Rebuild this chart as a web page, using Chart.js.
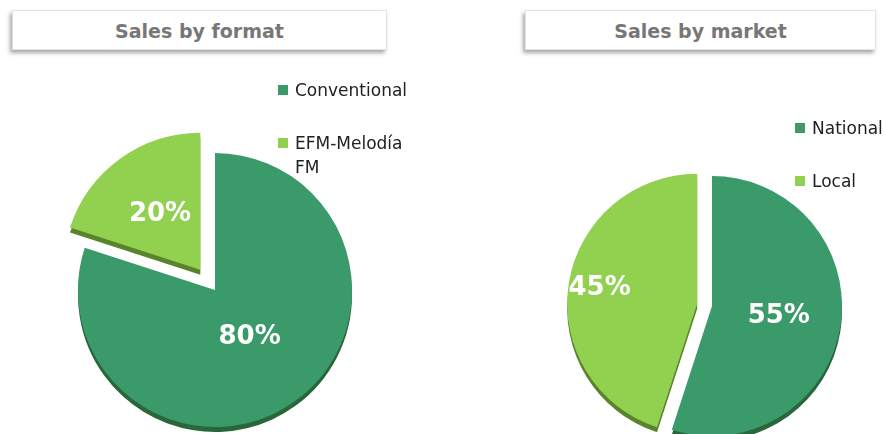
<!DOCTYPE html>
<html>
<head>
<meta charset="utf-8">
<script src="https://cdn.jsdelivr.net/npm/chart.js@4"></script>
<style>
  body { margin: 0; width: 884px; height: 434px; background: #fff; position: relative; overflow: hidden; font-family: "DejaVu Sans", Verdana, sans-serif; }
  .title { position: absolute; top: 10px; height: 40px; background: #fff; border: 1px solid #e4e4e4;
           box-shadow: -2px 3px 4px rgba(0,0,0,0.35); color: #777; font-weight: bold; font-size: 19px;
           line-height: 40px; text-align: center; box-sizing: border-box; }
  .wrap { position: absolute; top: 0; height: 434px; }
  .legend { position: absolute; font-size: 17px; color: #222; }
  .legend div { position: relative; padding-left: 17px; line-height: 24px; }
  .legend span { position: absolute; left: 0; top: 7px; width: 10px; height: 10px; }
</style>
</head>
<body>
<div class="title" style="left:12px;width:375px">Sales by format</div>
<div class="title" style="left:525px;width:351px">Sales by market</div>

<div class="wrap" style="left:0;width:430px"><canvas id="format-chart"></canvas></div>
<div class="wrap" style="left:560px;width:304px"><canvas id="market-chart"></canvas></div>

<div class="legend" id="format-legend" style="left:278px;top:78px;width:128px"></div>
<div class="legend" id="market-legend" style="left:795px;top:116px;width:90px"></div>

<script>
const formatLabels = ['Conventional', 'EFM-Melodía FM'];
const formatValues = [80, 20];
const marketLabels = ['National', 'Local'];
const marketValues = [55, 45];
const colors = ['#3a9a6a', '#92d050'];

// draws the slices pulled out by `explode` px, with a darker copy under them for a 3d edge
const pie3dPlugin = {
    id: 'pie3d',
    beforeDatasetDraw(chart, args, opts) {
        const ctx = chart.ctx;
        const arcs = args.meta.data;
        const shift = arc => {
            const mid = (arc.startAngle + arc.endAngle) / 2;
            const d = opts.explode[arc.$index] || 0;
            return [Math.cos(mid) * d, Math.sin(mid) * d];
        };
        arcs.forEach((arc, i) => arc.$index = i);

        ctx.save();
        arcs.forEach(arc => {
            const [dx, dy] = shift(arc);
            ctx.save();
            ctx.translate(dx, dy + opts.depth);
            arc.draw(ctx);
            ctx.restore();
        });
        ctx.globalCompositeOperation = 'source-atop';
        ctx.fillStyle = 'rgba(20,40,0,0.45)';
        ctx.fillRect(-10, -10, chart.width + 20, chart.height + 20);
        ctx.restore();

        arcs.forEach(arc => {
            const [dx, dy] = shift(arc);
            ctx.save();
            ctx.translate(dx, dy);
            arc.draw(ctx);
            ctx.restore();
        });
        return false;
    },
    afterDatasetsDraw(chart, args, opts) {
        const ctx = chart.ctx;
        const values = chart.data.datasets[0].data;
        ctx.save();
        ctx.fillStyle = '#fff';
        ctx.font = 'bold 26px "DejaVu Sans"';
        ctx.textAlign = 'center';
        ctx.textBaseline = 'middle';
        chart.getDatasetMeta(0).data.forEach((arc, i) => {
            const mid = (arc.startAngle + arc.endAngle) / 2;
            const r = arc.outerRadius * opts.labelPos[i] + (opts.explode[i] || 0);
            ctx.fillText(values[i] + '%', arc.x + Math.cos(mid) * r, arc.y + Math.sin(mid) * r);
        });
        ctx.restore();
    }
};

function makePie(id, labels, values, radius, explode, padTop, labelPos) {
    new Chart(document.getElementById(id).getContext('2d'), {
        type: 'pie',
        data: {
            labels: labels,
            datasets: [{
                data: values,
                backgroundColor: colors,
                borderWidth: 0,
                clip: false
            }]
        },
        options: {
            responsive: true,
            maintainAspectRatio: false,
            animation: false,
            radius: radius,
            layout: { padding: { top: padTop } },
            plugins: {
                legend: { display: false },
                tooltip: { enabled: false },
                pie3d: { explode: explode, depth: 5, labelPos: labelPos }
            }
        },
        plugins: [pie3dPlugin]
    });
}

function makeLegend(id, labels, gap) {
    const box = document.getElementById(id);
    labels.forEach((label, i) => {
        const item = document.createElement('div');
        item.style.marginTop = i ? gap + 'px' : '0';
        item.innerHTML = '<span style="background:' + colors[i] + '"></span>' + label;
        box.appendChild(item);
    });
}

makePie('format-chart', formatLabels, formatValues, 137, [0, 25], 146, [0.43, 0.5]);
makePie('market-chart', marketLabels, marketValues, 130, [0, 15], 178, [0.52, 0.76]);
makeLegend('format-legend', formatLabels, 29);
makeLegend('market-legend', marketLabels, 29);
</script>
</body>
</html>
